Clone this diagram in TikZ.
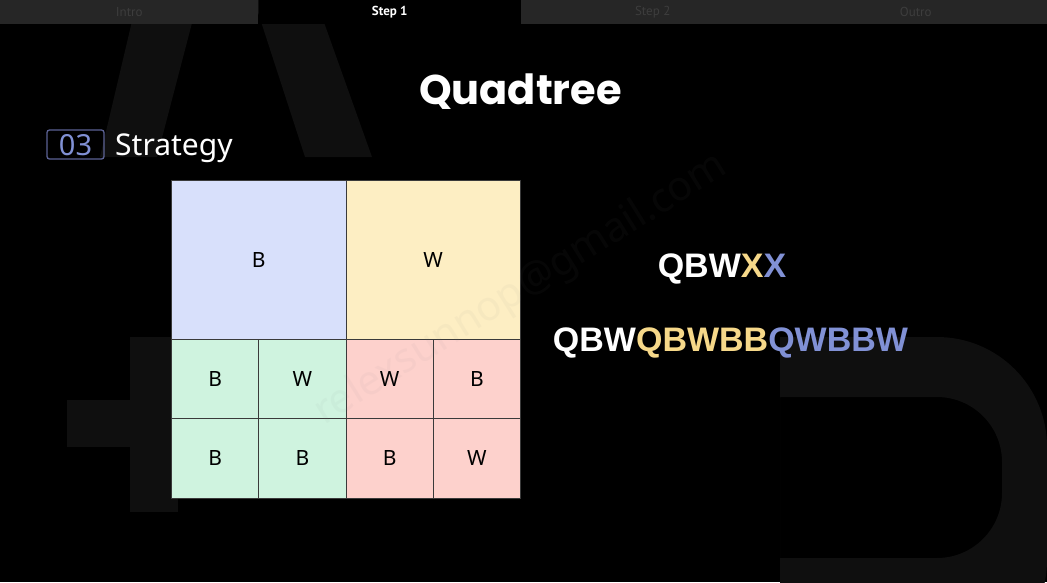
\documentclass[tikz,border=0pt]{standalone}
\usepackage{fontspec}
\setmainfont{Noto Sans}
\newfontfamily\titlefont{Poppins}
\newfontfamily\tabfont{PT Sans}
\newfontfamily\codefont{Liberation Sans}

\definecolor{tabgray}{HTML}{262626}
\definecolor{tabtext}{HTML}{3D3D3D}
\definecolor{ghost}{HTML}{0F0F0F}
\definecolor{cellblue}{HTML}{D8E0FB}
\definecolor{cellyellow}{HTML}{FDEEC3}
\definecolor{cellgreen}{HTML}{CFF3DF}
\definecolor{cellred}{HTML}{FDD1CC}
\definecolor{gridline}{HTML}{3A3A3A}
\definecolor{accentY}{HTML}{F6D889}
\definecolor{accentB}{HTML}{8191D5}
\definecolor{badgeline}{HTML}{5C6294}

\tikzset{
  tab/.style={anchor=north west, inner sep=0pt, minimum height=24pt,
    font=\tabfont\fontsize{13}{13}\selectfont, text=tabtext, fill=tabgray},
  cell/.style={anchor=north west, inner sep=0pt, draw=gridline, line width=1pt,
    text=black, font=\fontsize{21}{21}\selectfont},
  code/.style={anchor=base, inner sep=0pt, font=\codefont\bfseries\fontsize{34}{34}\selectfont},
}

\begin{document}
\begin{tikzpicture}[x=1pt, y=-1pt]
  \clip (0,0) rectangle (1047,582);
  \fill[black] (0,0) rectangle (1047,582);

  % faint oversized letterforms in the background
  \fill[ghost] (137,0) -- (198,0) -- (157,157) -- (100,157) -- cycle;
  \fill[ghost] (254,0) -- (316,0) -- (372,157) -- (305,157) -- cycle;
  \fill[ghost] (130,337) rectangle (178,512);
  \fill[ghost] (67,400) rectangle (178,447);
  \fill[ghost, even odd rule]
    (780,337) -- (937,337) arc[start angle=-90, end angle=0, radius=110]
    -- (1047,560) arc[start angle=0, end angle=90, radius=110]
    -- (780,670) -- cycle
    (780,397) -- (937,397) arc[start angle=-90, end angle=0, radius=65]
    -- (1002,493) arc[start angle=0, end angle=90, radius=65]
    -- (780,558) -- cycle;

  % navigation tabs
  \node[tab, minimum width=258pt] (intro) at (0,0) {Intro};
  \node[tab, minimum width=261pt, fill=black, text=white,
        font=\tabfont\bfseries\fontsize{13}{13}\selectfont] (step1) at (259,0) {Step 1};
  \node[tab, minimum width=263pt] (step2) at (521,0) {Step 2};
  \node[tab, minimum width=264pt] (outro) at (783.5,0) {Outro};

  % headings
  \node[anchor=base, inner sep=0pt, text=white,
        font=\titlefont\bfseries\fontsize{41.5}{41.5}\selectfont] (title) at (520.5,104) {Quadtree};
  \node[draw=badgeline, line width=1.3pt, rounded corners=2.5pt, inner sep=0pt,
        minimum width=57pt, minimum height=29pt] (num) at (75.5,144.5) {};
  \node[anchor=base, inner sep=0pt, text=accentB,
        font=\fontsize{29}{29}\selectfont] (numtext) at (75.5,155) {03};
  \node[anchor=base west, inner sep=0pt, text=white,
        font=\fontsize{30}{30}\selectfont] (section) at (115,155) {Strategy};

  % quadtree grid
  \node[cell, fill=cellblue,   minimum width=174.5pt, minimum height=158.5pt] (q1) at (171,180) {B};
  \node[cell, fill=cellyellow, minimum width=174.5pt, minimum height=158.5pt] (q2) at (345.5,180) {W};
  \node[cell, fill=cellgreen, minimum width=87.25pt, minimum height=79.5pt] (g1) at (171,338.5) {B};
  \node[cell, fill=cellgreen, minimum width=87.25pt, minimum height=79.5pt] (g2) at (258.25,338.5) {W};
  \node[cell, fill=cellgreen, minimum width=87.25pt, minimum height=79.5pt] (g3) at (171,418) {B};
  \node[cell, fill=cellgreen, minimum width=87.25pt, minimum height=79.5pt] (g4) at (258.25,418) {B};
  \node[cell, fill=cellred,   minimum width=87.25pt, minimum height=79.5pt] (r1) at (345.5,338.5) {W};
  \node[cell, fill=cellred,   minimum width=87.25pt, minimum height=79.5pt] (r2) at (432.75,338.5) {B};
  \node[cell, fill=cellred,   minimum width=87.25pt, minimum height=79.5pt] (r3) at (345.5,418) {B};
  \node[cell, fill=cellred,   minimum width=87.25pt, minimum height=79.5pt] (r4) at (432.75,418) {W};

  % watermark
  \node[rotate=32, inner sep=0pt, text=gray, opacity=0.05,
        font=\fontsize{41}{41}\selectfont] (mark) at (521,290) {relexsunnop@gmail.com};

  % encoded strings
  \node[code] (short) at (722,277)
    {\textcolor{white}{QBW}\textcolor{accentY}{X}\textcolor{accentB}{X}};
  \node[code] (long) at (730.5,351)
    {\textcolor{white}{QBW}\textcolor{accentY}{QBWBB}\textcolor{accentB}{QWBBW}};
\end{tikzpicture}
\end{document}
